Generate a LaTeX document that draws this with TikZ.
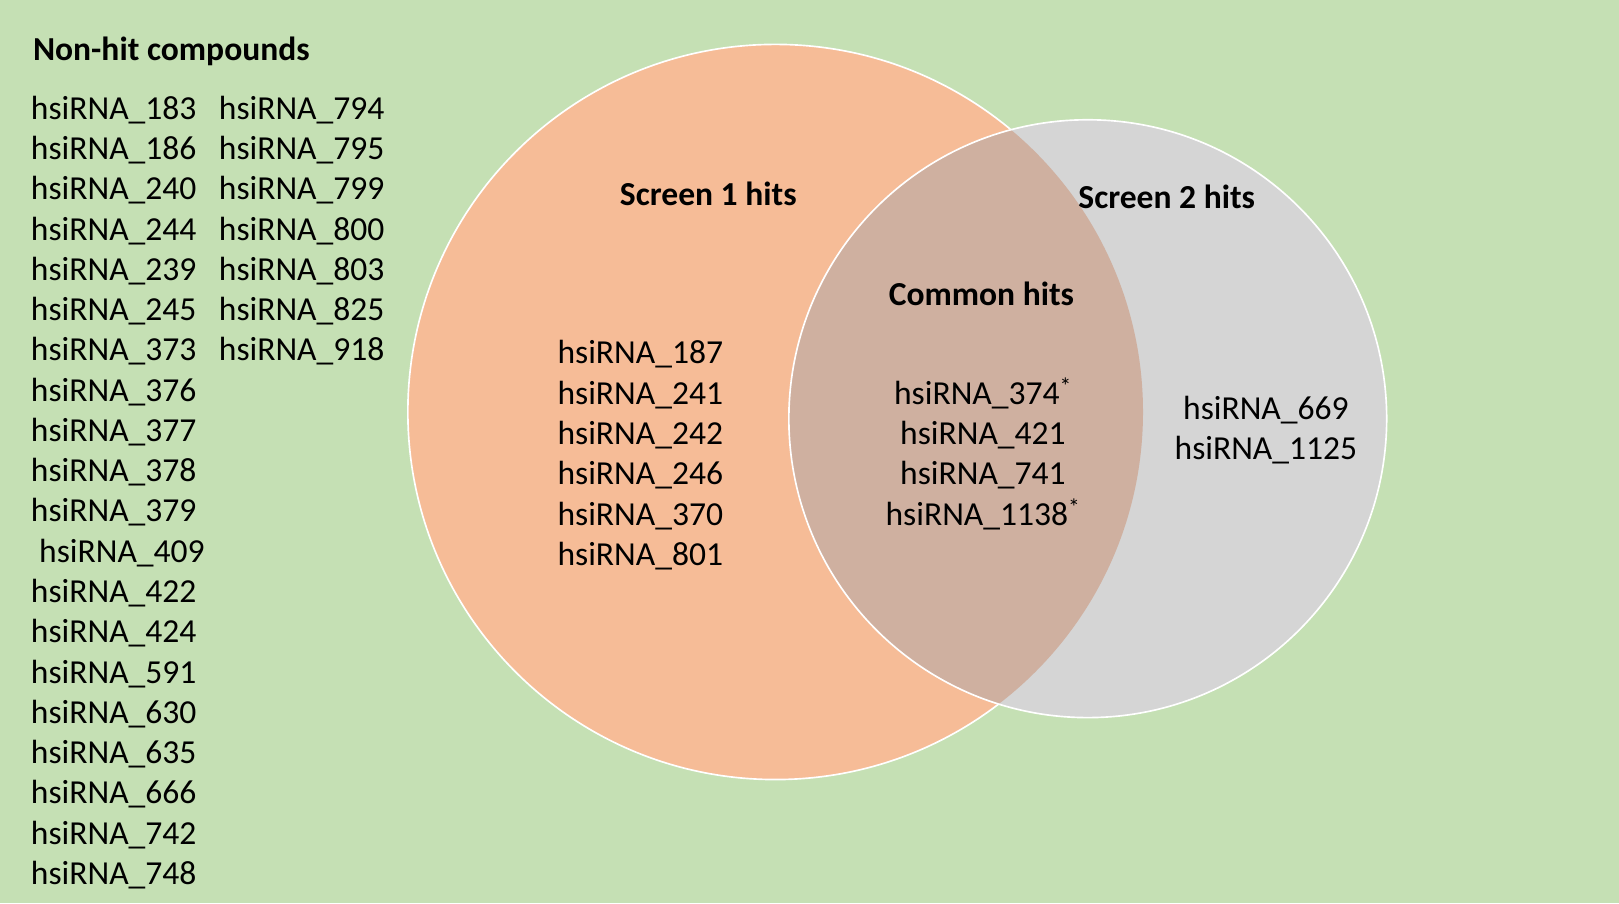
\documentclass[tikz,border=0pt]{standalone}
\usepackage{fontspec}
\setmainfont{Carlito}
\definecolor{bggreen}{RGB}{197,224,180}
\definecolor{orfill}{RGB}{246,188,151}
\definecolor{grfill}{RGB}{213,213,213}
\definecolor{ovfill}{RGB}{207,176,160}
\tikzset{
  lbl/.style={inner sep=0pt, outer sep=0pt, font=\fontsize{32.5}{39}\selectfont, text=black},
  head/.style={lbl, font=\fontsize{32.5}{39}\selectfont\bfseries},
  rim/.style={draw=white, line width=1.6pt},
}
\begin{document}
\begin{tikzpicture}[x=1pt,y=-1pt]
\fill[bggreen] (0,0) rectangle (1568,875);
\useasboundingbox (0,0) rectangle (1568,875);
% circles
\coordinate (c1) at (751,399);
\coordinate (c2) at (1053.5,405.5);
\fill[orfill] (c1) circle[radius=356pt];
\draw[rim] (c1) circle[radius=356pt];
\fill[grfill] (c2) circle[radius=289.5pt];
\begin{scope}
  \clip (c1) circle[radius=356pt];
  \fill[ovfill] (c2) circle[radius=289.5pt];
\end{scope}
\draw[rim] (c2) circle[radius=289.5pt];
% non-hit list
\node[head, anchor=base west] (nh) at (32,59) {Non-hit compounds};
\foreach \n [count=\k from 0] in {183,186,240,244,239,245,373,376,377,378,379,409,422,424,591,630,635,666,742,748}{
  \ifnum\n=409
    \node[lbl, anchor=base west] (a\k) at (38,115.5+39*\k) {hsiRNA\_\n};
  \else
    \node[lbl, anchor=base west] (a\k) at (30,115.5+39*\k) {hsiRNA\_\n};
  \fi
}
\foreach \n [count=\k from 0] in {794,795,799,800,803,825,918}{
  \node[lbl, anchor=base west] (b\k) at (212,115.5+39*\k) {hsiRNA\_\n};
}
% screen 1
\node[head, anchor=base] (s1) at (686,199.5) {Screen 1 hits};
\foreach \n [count=\k from 0] in {187,241,242,246,370,801}{
  \node[lbl, anchor=base west] (o\k) at (540,352.5+39*\k) {hsiRNA\_\n};
}
% common
\node[head, anchor=base] (cm) at (950.5,295.5) {Common hits};
\node[lbl, anchor=base] (m0) at (952,391.5) {hsiRNA\_374\textsuperscript{*}};
\node[lbl, anchor=base] (m1) at (952,430.5) {hsiRNA\_421};
\node[lbl, anchor=base] (m2) at (952,469.5) {hsiRNA\_741};
\node[lbl, anchor=base] (m3) at (952,508.5) {hsiRNA\_1138\textsuperscript{*}};
% screen 2
\node[head, anchor=base] (s2) at (1130,201.5) {Screen 2 hits};
\node[lbl, anchor=base] (g0) at (1226,406.5) {hsiRNA\_669};
\node[lbl, anchor=base] (g1) at (1226,445.5) {hsiRNA\_1125};
\end{tikzpicture}
\end{document}
